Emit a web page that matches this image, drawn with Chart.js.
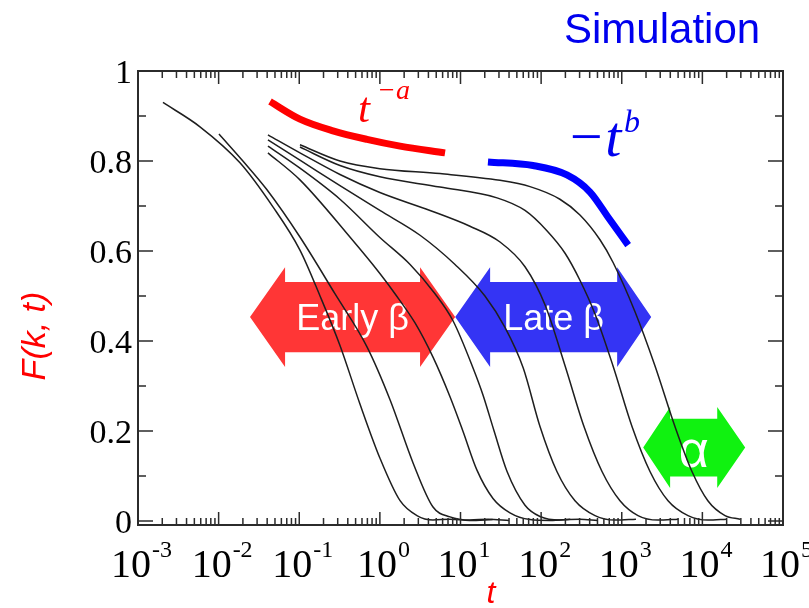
<!DOCTYPE html>
<html>
<head>
<meta charset="utf-8">
<script src="https://cdn.jsdelivr.net/npm/chart.js@4.4.1/dist/chart.umd.min.js"></script>
<style>
  html, body { margin: 0; padding: 0; background: #fff; }
  #wrap { width: 809px; height: 608px; }
</style>
</head>
<body>
<div id="wrap"><canvas id="myChart" width="809" height="608"></canvas></div>
<script>
// tick values
const xTickExps = [-3, -2, -1, 0, 1, 2, 3, 4, 5];
const yTickValues = [0, 0.2, 0.4, 0.6, 0.8, 1];
const yTickLabels = ['0', '0.2', '0.4', '0.6', '0.8', '1'];
const yMinorValues = [0.1, 0.3, 0.5, 0.7, 0.9];

// F(k,t) curves (t, F)
const t1 = [0.00204, 0.00587, 0.0184, 0.0472, 0.102, 0.181, 0.32, 0.566, 1.0, 1.78, 2.88, 4.56, 7.4, 13, 25];
const f1 = [0.93, 0.876, 0.796, 0.698, 0.602, 0.5, 0.39, 0.26, 0.14, 0.045, 0.012, 0.002, 0.004, 0.001, 0.003];
const t2 = [0.0101, 0.02, 0.0398, 0.102, 0.277, 0.692, 1.34, 2.58, 4.56, 7.41, 13.1, 22, 40];
const f2 = [0.86, 0.8, 0.736, 0.631, 0.505, 0.387, 0.269, 0.129, 0.031, 0.009, 0.002, 0.004, 0.001];
const t3 = [0.0409, 0.102, 0.425, 1.0, 1.54, 2.73, 4.56, 7.41, 10.7, 16.0, 25.3, 41.1, 72.8, 130, 230];
const f3 = [0.818, 0.758, 0.631, 0.55, 0.505, 0.44, 0.364, 0.276, 0.2, 0.113, 0.05, 0.018, 0.003, 0.001, 0.004];
const t4 = [0.0409, 0.102, 0.32, 1.0, 2.37, 4.83, 8.07, 14.3, 19.0, 26.1, 37.8, 63.1, 96.8, 171, 300, 500];
const f4 = [0.833, 0.784, 0.715, 0.63, 0.57, 0.505, 0.445, 0.34, 0.28, 0.2, 0.11, 0.035, 0.01, 0.002, 0.004, 0.001];
const t5 = [0.0409, 0.102, 0.32, 1.0, 3.15, 8.55, 20.1, 35.6, 60, 96.8, 157, 263, 466, 824, 1500];
const f5 = [0.847, 0.802, 0.745, 0.69, 0.635, 0.57, 0.5, 0.43, 0.34, 0.21, 0.11, 0.045, 0.012, 0.002, 0.004];
const t6 = [0.0409, 0.102, 0.32, 1.0, 4.19, 13.1, 30.9, 63.1, 112, 198, 340, 569, 951, 1590, 2820, 5000];
const f6 = [0.858, 0.818, 0.77, 0.73, 0.69, 0.655, 0.62, 0.565, 0.48, 0.345, 0.21, 0.11, 0.045, 0.012, 0.002, 0.004];
const t7 = [0.102, 0.32, 1.0, 5.57, 28.4, 63.1, 118, 198, 303, 466, 778, 1340, 2240, 3750, 6640, 11700, 20000];
const f7 = [0.831, 0.79, 0.765, 0.742, 0.718, 0.69, 0.645, 0.595, 0.535, 0.46, 0.345, 0.21, 0.11, 0.045, 0.012, 0.002, 0.004];
const t8 = [0.102, 0.32, 1.0, 5.57, 30.9, 72.8, 171, 303, 537, 778, 1460, 2580, 4570, 7430, 11700, 19100, 29300];
const f8 = [0.836, 0.8, 0.783, 0.772, 0.757, 0.743, 0.715, 0.68, 0.625, 0.575, 0.465, 0.345, 0.21, 0.11, 0.045, 0.012, 0.004];

// guide lines t^-a and -t^b
const tPowA = [0.0434, 0.102, 0.262, 0.692, 1.78, 6.43];
const fPowA = [0.932, 0.893, 0.867, 0.848, 0.833, 0.818];
const tPowB = [21.9, 79.3, 209, 404, 695, 1200];
const fPowB = [0.798, 0.79, 0.769, 0.731, 0.672, 0.613];

const curveT = [t1, t2, t3, t4, t5, t6, t7, t8];
const curveF = [f1, f2, f3, f4, f5, f6, f7, f8];

// double arrows in data coords: tips / head bases in t, centre and half heights in F
const arrows = [
  { tips: [0.0245, 8.6], bases: [0.0667, 3.15], yc: 0.453, body: 0.078, head: 0.111,
    color: '#ff3636', label: 'Early β', font: '36px "Liberation Sans"', dy: 13 },
  { tips: [8.6, 2320], bases: [23.3, 877], yc: 0.453, body: 0.078, head: 0.111,
    color: '#3434f4', label: 'Late β', font: '36px "Liberation Sans"', dy: 13 },
  { tips: [1845, 33970], bases: [3980, 15280], yc: 0.163, body: 0.064, head: 0.09,
    color: '#10f210', label: 'α', font: '52px "Liberation Sans"', dy: 19 },
];

const serif = '"Liberation Serif", "Times New Roman", serif';
const sans = '"Liberation Sans", Arial, sans-serif';

function toPoints(ts, fs) {
  return ts.map((t, i) => ({ x: t, y: fs[i] }));
}

function curveDataset(ts, fs) {
  return {
    data: toPoints(ts, fs),
    borderColor: '#1e1e1e',
    borderWidth: 1.5,
    pointRadius: 0,
    showLine: true,
    cubicInterpolationMode: 'monotone',
  };
}

function guideDataset(ts, fs, color) {
  return {
    data: toPoints(ts, fs),
    borderColor: color,
    borderWidth: 7,
    pointRadius: 0,
    showLine: true,
    cubicInterpolationMode: 'monotone',
    borderCapStyle: 'butt',
  };
}

function drawArrows(chart) {
  const { ctx, scales } = chart;
  const xs = scales.x, ys = scales.y;
  arrows.forEach(a => {
    const x0 = xs.getPixelForValue(a.tips[0]);
    const x3 = xs.getPixelForValue(a.tips[1]);
    const x1 = xs.getPixelForValue(a.bases[0]);
    const x2 = xs.getPixelForValue(a.bases[1]);
    const yc = ys.getPixelForValue(a.yc);
    const bh = yc - ys.getPixelForValue(a.yc + a.body);
    const hh = yc - ys.getPixelForValue(a.yc + a.head);
    ctx.save();
    ctx.fillStyle = a.color;
    ctx.beginPath();
    ctx.moveTo(x0, yc);
    ctx.lineTo(x1, yc - hh);
    ctx.lineTo(x1, yc - bh);
    ctx.lineTo(x2, yc - bh);
    ctx.lineTo(x2, yc - hh);
    ctx.lineTo(x3, yc);
    ctx.lineTo(x2, yc + hh);
    ctx.lineTo(x2, yc + bh);
    ctx.lineTo(x1, yc + bh);
    ctx.lineTo(x1, yc + hh);
    ctx.closePath();
    ctx.fill();
    ctx.fillStyle = '#fff';
    ctx.font = a.font;
    ctx.textAlign = 'center';
    ctx.textBaseline = 'alphabetic';
    ctx.fillText(a.label, (x1 + x2) / 2, yc + a.dy);
    ctx.restore();
  });
}

function drawFrame(chart) {
  const { ctx, chartArea: ca, scales } = chart;
  const xs = scales.x, ys = scales.y;
  ctx.save();
  ctx.strokeStyle = '#2b2b2b';
  ctx.lineWidth = 1.5;
  ctx.beginPath();
  // x ticks, bottom and top, pointing inwards
  xTickExps.forEach((e, i) => {
    const majorX = xs.getPixelForValue(Math.pow(10, e));
    ctx.moveTo(majorX, ca.bottom); ctx.lineTo(majorX, ca.bottom - 13);
    ctx.moveTo(majorX, ca.top); ctx.lineTo(majorX, ca.top + 13);
    if (i === xTickExps.length - 1) return;
    for (let m = 2; m <= 9; m++) {
      const px = xs.getPixelForValue(m * Math.pow(10, e));
      ctx.moveTo(px, ca.bottom); ctx.lineTo(px, ca.bottom - 7);
      ctx.moveTo(px, ca.top); ctx.lineTo(px, ca.top + 7);
    }
  });
  // y ticks, left and right
  yTickValues.forEach(v => {
    const py = ys.getPixelForValue(v);
    ctx.moveTo(ca.left, py); ctx.lineTo(ca.left + 15, py);
    ctx.moveTo(ca.right, py); ctx.lineTo(ca.right - 15, py);
  });
  yMinorValues.forEach(v => {
    const py = ys.getPixelForValue(v);
    ctx.moveTo(ca.left, py); ctx.lineTo(ca.left + 8, py);
    ctx.moveTo(ca.right, py); ctx.lineTo(ca.right - 8, py);
  });
  ctx.stroke();
  ctx.lineWidth = 2;
  ctx.strokeRect(ca.left, ca.top, ca.right - ca.left, ca.bottom - ca.top);
  ctx.restore();
}

function drawAxisLabels(chart) {
  const { ctx, chartArea: ca, scales } = chart;
  const xs = scales.x, ys = scales.y;
  ctx.save();
  ctx.fillStyle = '#000';
  ctx.textBaseline = 'alphabetic';

  // y tick labels
  ctx.font = '34px ' + serif;
  ctx.textAlign = 'right';
  yTickValues.forEach((v, i) => {
    ctx.fillText(yTickLabels[i], ca.left - 6, ys.getPixelForValue(v) + 12);
  });

  // x tick labels 10^n
  ctx.textAlign = 'left';
  xTickExps.forEach(e => {
    const px = xs.getPixelForValue(Math.pow(10, e));
    ctx.font = '40px ' + serif;
    const wBase = ctx.measureText('10').width;
    ctx.font = '24px ' + serif;
    const wSup = ctx.measureText(String(e)).width;
    const left = px - (wBase + wSup) / 2 + 3;
    ctx.font = '40px ' + serif;
    ctx.fillText('10', left, ca.bottom + 52);
    ctx.font = '24px ' + serif;
    ctx.fillText(String(e), left + wBase + 1, ca.bottom + 32);
  });

  // axis titles
  ctx.fillStyle = '#ff0000';
  ctx.font = 'italic 32px ' + sans;
  ctx.textAlign = 'center';
  ctx.fillText('t', 491, 603);
  ctx.save();
  ctx.translate(45, 336);
  ctx.rotate(-Math.PI / 2);
  ctx.font = 'italic 34px ' + sans;
  ctx.fillText('F(k, t)', 0, 0);
  ctx.restore();

  // title
  ctx.fillStyle = '#0000ee';
  ctx.font = '42px ' + sans;
  ctx.textAlign = 'left';
  ctx.fillText('Simulation', 564, 43);

  // t^-a
  ctx.fillStyle = '#ff0000';
  ctx.font = 'italic 43px ' + serif;
  ctx.fillText('t', 358, 122);
  ctx.font = 'italic 28px ' + serif;
  ctx.fillText('−a', 377, 99);

  // -t^b
  ctx.fillStyle = '#0000ee';
  ctx.font = 'italic 58px ' + serif;
  ctx.fillText('−t', 566, 156);
  ctx.font = 'italic 32px ' + serif;
  ctx.fillText('b', 624, 132);
  ctx.restore();
}

const decorPlugin = {
  id: 'decor',
  beforeDatasetsDraw(chart) {
    drawArrows(chart);
  },
  afterDatasetsDraw(chart) {
    drawFrame(chart);
    drawAxisLabels(chart);
  },
};

const datasets = curveT.map((ts, i) => curveDataset(ts, curveF[i]));
datasets.push(guideDataset(tPowA, fPowA, '#ff0000'));
datasets.push(guideDataset(tPowB, fPowB, '#0000ff'));

const ctx = document.getElementById('myChart').getContext('2d');
new Chart(ctx, {
  type: 'scatter',
  data: { datasets },
  options: {
    responsive: false,
    animation: false,
    devicePixelRatio: 1,
    layout: { padding: { left: 138, right: 26, top: 71, bottom: 83 } },
    plugins: { legend: { display: false }, tooltip: { enabled: false } },
    scales: {
      x: { type: 'logarithmic', min: 1e-3, max: 1e5, display: false },
      y: { type: 'linear', min: -0.009, max: 1, display: false },
    },
  },
  plugins: [decorPlugin],
});
</script>
</body>
</html>
